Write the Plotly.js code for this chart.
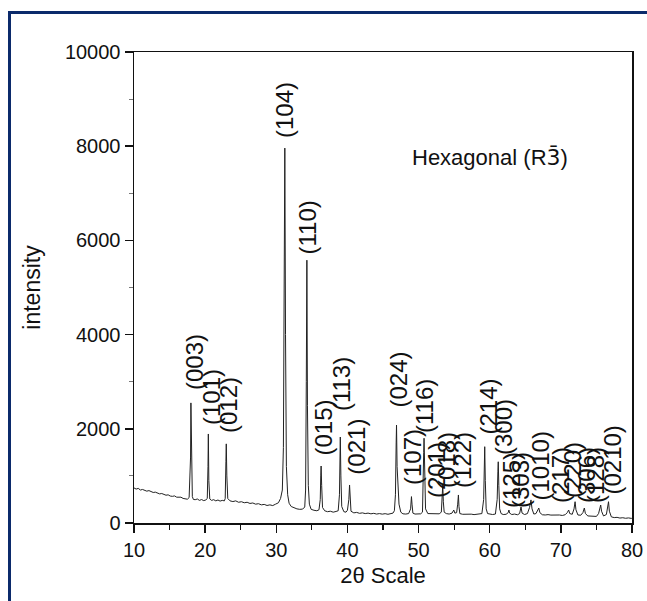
<!DOCTYPE html>
<html>
<head>
<meta charset="utf-8">
<script src="https://cdn.plot.ly/plotly-3.0.1.min.js"></script>
<style>
  html, body { margin: 0; padding: 0; background: #fff; }
  #wrap { position: relative; width: 647px; height: 601px; overflow: hidden; }
  #chart { position: absolute; left: 0; top: 0; width: 647px; height: 601px; }
  #frame { position: absolute; left: 8px; top: 11px; width: 700px; height: 700px;
           border-left: 3px solid #0b2a6b; border-top: 3px solid #0b2a6b; pointer-events: none; }
</style>
</head>
<body>
<div id="wrap">
  <div id="chart"></div>
  <div id="frame"></div>
</div>
<script>
const twoTheta = [
  10.0,10.3,10.6,10.9,11.2,11.5,11.8,12.1,12.4,12.7,13.0,13.3,13.6,13.9,14.2,14.5,14.8,15.1,15.4,15.7,
  16.0,16.3,16.6,16.9,17.2,17.5,17.75,17.88,17.95,18.0,18.08,18.2,18.35,18.6,18.9,19.2,19.5,19.8,20.1,
  20.3,20.4,20.45,20.52,20.65,20.9,21.2,21.5,21.8,22.1,22.4,22.7,22.82,22.92,22.97,23.05,23.18,
  23.5,23.9,24.3,24.7,25.1,25.5,25.9,26.3,26.7,27.1,27.5,27.9,28.3,28.7,29.1,29.5,29.9,30.3,30.6,
  30.85,31.0,31.1,31.2,31.3,31.42,31.6,31.8,32.1,32.5,32.9,33.3,33.7,34.0,
  34.12,34.22,34.3,34.38,34.5,34.65,34.9,35.3,35.7,36.0,
  36.18,36.25,36.3,36.38,36.5,36.8,37.2,37.6,38.0,38.4,38.7,
  38.88,38.95,39.0,39.08,39.2,39.5,39.8,40.0,40.2,40.3,40.38,40.5,
  40.9,41.3,41.7,42.1,42.5,42.9,43.3,43.7,44.1,44.5,44.9,45.3,45.7,46.1,46.4,46.6,
  46.75,46.85,46.9,46.98,47.1,47.25,47.5,47.8,48.2,48.6,
  48.88,48.95,49.0,49.08,49.2,49.5,49.9,50.3,50.55,
  50.65,50.72,50.77,50.85,50.98,51.3,51.7,52.1,52.5,52.9,53.2,
  53.3,53.4,53.48,53.6,53.9,54.3,54.7,54.95,55.1,55.35,
  55.5,55.6,55.68,55.8,56.2,56.6,57.0,57.4,57.8,58.2,58.6,58.9,
  59.15,59.25,59.3,59.38,59.5,59.7,60.0,60.4,60.8,
  61.05,61.15,61.2,61.28,61.4,61.6,61.9,62.3,62.6,62.7,62.8,
  63.1,63.5,63.9,64.2,64.4,64.55,64.9,65.3,65.6,65.8,65.95,66.2,66.5,66.8,66.9,67.05,
  67.4,67.8,68.2,68.6,69.0,69.4,69.8,70.2,70.6,70.9,71.1,71.25,71.6,71.85,72.0,72.12,
  72.4,72.8,73.1,73.3,73.45,73.8,74.2,74.6,75.0,75.3,75.5,75.6,75.72,76.0,76.4,76.6,76.7,76.82,
  77.1,77.5,77.9,78.3,78.7,79.1,79.5,79.9,80.0
];
const intensity = [
  745,720,735,700,712,690,676,688,660,648,655,630,618,626,600,590,598,572,566,575,
  548,540,548,522,515,505,540,1300,1400,2550,900,560,500,495,510,480,498,475,490,
  520,1200,1890,900,510,480,495,470,488,465,480,470,520,1300,1680,1000,520,
  470,455,470,440,452,430,440,415,425,400,410,385,395,372,385,370,400,430,520,
  700,1600,4500,7960,4000,1200,600,420,350,320,300,290,295,340,
  700,3000,5580,2500,800,400,290,270,260,280,
  500,1000,1210,800,330,260,240,250,230,245,260,
  600,1500,1826,1000,350,240,230,270,500,807,500,250,
  215,225,205,215,200,210,195,205,190,200,188,198,185,195,210,260,
  600,1700,2080,1200,770,400,230,195,190,200,
  300,500,560,400,210,190,200,195,230,
  700,1500,1800,900,300,200,195,190,200,195,230,
  500,807,450,230,200,190,210,276,210,220,
  400,595,350,200,185,190,180,188,178,186,180,200,
  500,1300,1620,900,300,200,185,180,190,
  500,1100,1300,800,300,200,180,185,220,276,210,
  180,190,175,200,340,210,180,200,330,490,300,190,200,280,318,220,
  175,170,178,168,172,160,170,160,175,220,276,200,185,300,452,280,
  170,165,220,318,200,150,145,150,140,200,340,382,250,150,180,400,452,250,
  130,115,120,105,112,100,108,98,100
];
// Miller-index labels, the 2-theta they sit at and the intensity where each starts
const peakLabels = ["(003)","(101)","(012)","(104)","(110)","(015)","(113)","(021)","(024)","(107)","(116)",
  "(201)","(018)","(122)","(214)","(300)","(125)","(303)","(1010)","(217)","(220)","(306)","(128)","(0210)"];
const labelTheta = [18.43,20.82,23.21,31.23,34.39,36.5,39.1,41.3,47.04,49.08,50.76,
  52.45,53.86,56.1,59.69,61.87,63.0,64.26,67.07,69.88,71.57,73.54,74.8,77.19];
const labelStart = [2781,2038,1868,8132,5648,1380,2335,977,2399,764,1868,
  488,700,700,1826,1401,276,276,425,382,488,382,382,552];

const phaseNote = "Hexagonal (R<span style='font-family:DejaVu Sans'>3\u0304</span>)";
const xTitle = "2\u03b8 Scale";
const yTitle = "intensity";

const FONT = "Liberation Sans, Arial, sans-serif";

const annotations = peakLabels.map((t, i) => ({
  x: labelTheta[i], y: labelStart[i], xref: "x", yref: "y",
  text: t, showarrow: false, textangle: -90,
  xanchor: "center", yanchor: "bottom",
  font: { family: FONT, size: 24, color: "#111" }
}));
annotations.push({
  x: 48.8, y: 7750, xref: "x", yref: "y", text: phaseNote, showarrow: false,
  xanchor: "left", yanchor: "middle",
  font: { family: FONT, size: 22, color: "#111" }
});

const trace = {
  x: twoTheta, y: intensity, type: "scatter", mode: "lines",
  line: { color: "#222", width: 1 }, hoverinfo: "skip"
};

const axisCommon = {
  showline: true, linecolor: "#111", linewidth: 1.5, mirror: true,
  ticks: "outside", ticklen: 8, tickwidth: 1.5, tickcolor: "#111",
  showgrid: false, zeroline: false, tickformat: "d",
  tickfont: { family: FONT, size: 20, color: "#111" }
};

const layout = {
  width: 647, height: 601,
  margin: { l: 134, r: 15, t: 52, b: 78 },
  paper_bgcolor: "rgba(0,0,0,0)", plot_bgcolor: "#fff",
  showlegend: false,
  xaxis: Object.assign({}, axisCommon, {
    range: [10, 80], dtick: 10, tick0: 10,
    minor: { dtick: 5, ticks: "outside", ticklen: 5, tickcolor: "#111", tickwidth: 1.2, showgrid: false },
    title: { text: xTitle, font: { family: FONT, size: 22, color: "#111" }, standoff: 8 }
  }),
  yaxis: Object.assign({}, axisCommon, {
    range: [0, 10000], dtick: 2000, tick0: 0,
    minor: { dtick: 1000, ticks: "outside", ticklen: 4, tickcolor: "#777", tickwidth: 1, showgrid: false },
    title: { text: yTitle, font: { family: FONT, size: 23, color: "#111" }, standoff: 18 }
  }),
  annotations: annotations
};

Plotly.newPlot("chart", [trace], layout, { displayModeBar: false, staticPlot: true });
</script>
</body>
</html>
